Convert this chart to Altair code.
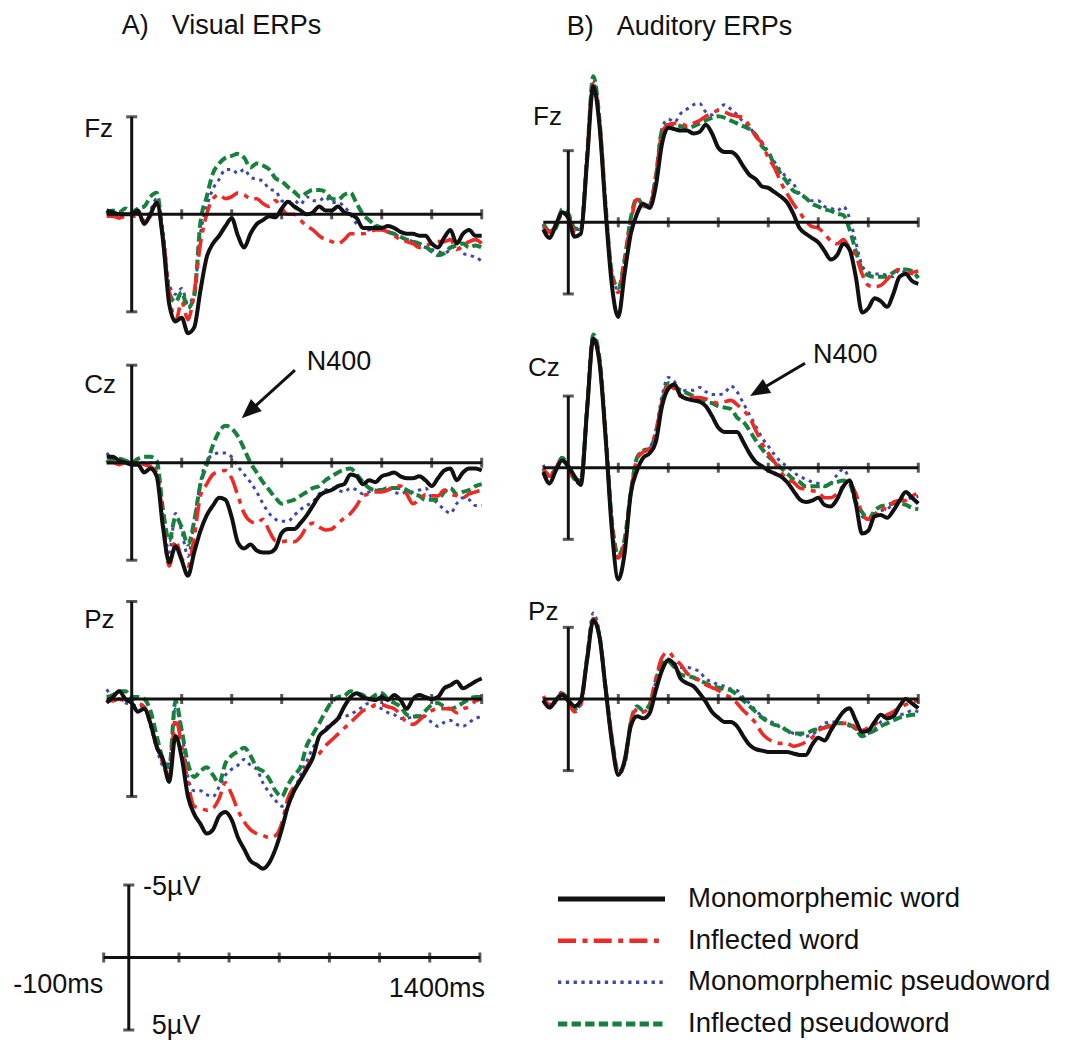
import altair as alt
import pandas as pd

FONT = "Liberation Sans"
INK = "#111111"

# ---------------------------------------------------------------- data
TIME_MS = list(range(-100, 1401, 25))          # sampling grid of every trace
CONDITIONS = ["Monomorphemic word", "Inflected word",
              "Monomorphemic pseudoword", "Inflected pseudoword"]
AXIS_TICKS_MS = [200, 400, 600, 800, 1000, 1200, 1400]
SCALEBAR_TICKS_MS = [-100, 200, 400, 600, 800, 1000, 1200, 1400]
BAR_UV = [-5, 5]

# Visual ERPs (µV, negative plotted upward)
VIS_FZ_MW = [-0.2, -0.1, 0.0, 0.0, 0.0, -0.2, 0.5, 0.0, -0.6, 1.3,
             4.6, 5.5, 5.3, 6.1, 5.8, 3.9, 2.2, 1.5, 1.1, 0.6,
             0.2, 1.1, 1.7, 1.0, 0.5, 0.3, 0.1, 0.15, -0.3, -0.65,
             -0.4, -0.2, 0.0, -0.1, -0.4, -0.2, -0.2, -0.4, -0.1, 0.0,
             0.2, 0.7, 0.7, 0.7, 0.7, 0.6, 0.7, 0.9, 1.0, 1.0,
             1.1, 1.1, 1.5, 1.7, 1.2, 0.8, 1.5, 1.0, 0.8, 1.1, 1.1]
VIS_FZ_IW = [0.1, 0.1, 0.2, 0.1, 0.1, 0.1, 0.4, 0.1, -0.5, 1.1,
             4.0, 5.5, 4.5, 5.4, 4.0, 1.5, 0.0, -0.8, -1.0, -0.8,
             -0.9, -1.1, -1.0, -0.8, -0.8, -0.55, -0.4, -0.7, -0.3, 0.0,
             0.0, 0.3, 0.6, 0.8, 1.1, 1.3, 1.4, 1.5, 1.3, 1.0,
             1.0, 1.0, 0.9, 0.8, 0.8, 0.9, 1.1, 1.3, 1.4, 1.5,
             1.7, 1.6, 1.5, 1.4, 1.4, 1.3, 1.8, 1.6, 1.4, 1.3, 1.5]
VIS_FZ_MP = [-0.2, 0.0, 0.0, 0.0, 0.0, 0.0, 0.3, -0.2, -0.8, 0.8,
             3.6, 4.1, 3.8, 4.6, 4.0, 1.0, -0.4, -1.3, -1.8, -2.3,
             -2.3, -2.1, -2.3, -1.9, -1.8, -1.7, -1.3, -1.2, -0.7, -0.6,
             -0.7, -0.5, -0.9, -0.7, -0.7, -0.9, -0.6, -0.6, -0.4, 0.0,
             0.5, 0.7, 0.8, 0.6, 0.7, 0.9, 1.0, 1.2, 1.3, 1.4,
             1.6, 1.7, 1.8, 1.9, 2.0, 1.8, 1.6, 2.0, 2.1, 2.2, 2.4]
VIS_FZ_IP = [0.0, -0.2, -0.1, -0.3, -0.1, -0.3, -0.4, -0.9, -1.1, 1.2,
             4.0, 4.5, 4.0, 4.8, 4.2, 0.4, -0.9, -2.1, -2.6, -2.9,
             -3.0, -3.1, -2.9, -2.4, -2.6, -2.5, -2.3, -1.85, -1.7, -1.4,
             -1.15, -0.9, -1.1, -1.25, -1.25, -1.15, -0.8, -0.75, -1.0, -1.1,
             -0.55, 0.0, 0.3, 0.55, 0.7, 0.9, 1.0, 1.15, 1.3, 1.4,
             1.5, 1.65, 1.9, 2.1, 2.0, 1.7, 1.6, 1.5, 1.7, 1.6, 1.7]

VIS_CZ_MW = [-0.3, -0.3, -0.1, 0.0, 0.1, 0.1, 0.5, 0.3, 0.7, 3.3,
             5.1, 4.3, 5.0, 5.8, 4.6, 3.5, 2.7, 2.2, 1.8, 1.9,
             2.8, 4.1, 4.4, 4.2, 4.5, 4.6, 4.6, 4.4, 3.6, 3.4,
             3.4, 3.1, 2.7, 2.2, 1.7, 1.5, 1.4, 1.2, 1.1, 0.6,
             0.7, 1.1, 0.9, 1.0, 0.7, 0.6, 0.5, 0.7, 0.8, 0.8,
             0.7, 0.9, 1.2, 0.8, 0.4, 0.3, 0.9, 0.5, 0.3, 0.3, 0.4]
VIS_CZ_IW = [0.0, 0.0, 0.1, 0.0, 0.0, 0.0, 0.1, 0.2, 0.5, 3.0,
             5.3, 4.0, 4.9, 5.3, 3.8, 1.7, 1.1, 0.6, 0.45, 0.4,
             0.8, 1.7, 2.6, 3.0, 3.1, 2.9, 3.5, 4.0, 4.05, 4.0,
             4.05, 3.8, 3.3, 3.1, 3.3, 3.45, 3.4, 3.1, 2.85, 2.6,
             2.2, 1.7, 1.6, 1.5, 1.5, 1.4, 1.2, 1.2, 1.6, 2.1,
             1.9, 1.65, 1.7, 1.7, 1.4, 1.6, 1.7, 1.8, 1.6, 1.5, 1.4]
VIS_CZ_MP = [-0.5, -0.2, 0.0, -0.1, 0.0, 0.0, 0.0, 0.0, 0.3, 2.8,
             4.6, 2.6, 3.5, 4.8, 3.0, 1.0, -0.1, -0.4, -0.5, -0.5,
             -0.3, 0.2, 0.6, 1.0, 1.5, 2.1, 2.6, 2.9, 3.0, 3.0,
             2.7, 2.4, 2.2, 2.0, 1.6, 1.4, 1.3, 1.4, 1.5, 1.3,
             1.4, 1.6, 1.5, 1.4, 1.5, 1.3, 1.5, 1.6, 1.5, 1.5,
             1.4, 1.3, 1.8, 2.1, 2.4, 2.6, 2.1, 1.8, 1.9, 2.2, 2.2]
VIS_CZ_IP = [0.0, -0.2, -0.2, -0.1, 0.0, -0.2, -0.3, -0.3, -0.1, 2.4,
             4.0, 2.8, 3.3, 4.2, 3.0, 1.1, 0.1, -0.9, -1.6, -1.9,
             -1.75, -1.35, -0.7, 0.0, 0.5, 1.0, 1.4, 1.8, 2.1, 2.0,
             1.9, 1.7, 1.5, 1.3, 1.2, 0.9, 0.7, 0.5, 0.35, 0.3,
             0.6, 1.0, 1.3, 1.4, 1.4, 1.3, 1.3, 1.3, 1.4, 1.6,
             1.7, 1.9, 1.9, 1.9, 1.5, 1.3, 1.6, 1.5, 1.4, 1.2, 1.1]

VIS_PZ_MW = [0.2, -0.1, -0.4, 0.0, 0.2, 0.65, 0.5, 1.25, 2.45, 3.1,
             4.25, 1.9, 3.0, 5.0, 5.9, 6.4, 6.9, 6.7, 6.0, 5.8,
             6.2, 7.1, 7.7, 8.3, 8.5, 8.7, 8.4, 7.7, 6.7, 5.5,
             4.7, 4.15, 3.6, 3.0, 1.9, 1.6, 1.3, 1.0, 0.4, -0.1,
             -0.3, -0.1, 0.0, 0.05, -0.1, 0.05, -0.2, 0.05, 0.5, 0.0,
             -0.2, -0.1, 0.0, -0.1, -0.55, -0.7, -0.9, -0.55, -0.7, -0.9, -1.05]
VIS_PZ_IW = [0.0, 0.1, 0.0, 0.1, 0.0, 0.2, 0.4, 1.2, 2.4, 3.3,
             4.0, 1.0, 2.4, 4.3, 5.5, 5.6, 5.7, 5.6, 5.1, 4.3,
             4.9, 5.7, 6.3, 6.7, 6.9, 7.0, 7.1, 7.0, 6.4, 5.1,
             4.5, 4.1, 3.5, 3.0, 2.8, 2.4, 2.1, 1.8, 1.5, 1.2,
             0.9, 0.6, 0.5, 0.3, 0.3, 0.4, 0.5, 0.8, 1.2, 1.3,
             1.1, 0.8, 0.6, 0.5, 0.5, 0.5, 0.7, 0.5, 0.4, 0.1, 0.0]
VIS_PZ_MP = [-0.5, -0.1, 0.0, 0.2, 0.3, 0.35, 0.4, 1.4, 2.5, 3.4,
             3.3, 0.5, 1.6, 4.0, 4.7, 4.7, 4.9, 5.0, 4.5, 3.9,
             3.6, 3.4, 3.1, 3.4, 3.6, 4.3, 4.8, 5.2, 5.5, 5.4,
             4.7, 3.9, 3.2, 2.5, 2.0, 1.5, 1.3, 1.0, 0.9, 0.8,
             0.6, 0.4, 0.2, 0.4, 0.5, 0.7, 0.8, 1.0, 1.0, 0.9,
             0.85, 0.9, 1.2, 1.4, 1.2, 1.1, 1.3, 1.4, 1.2, 1.0, 0.9]
VIS_PZ_IP = [-0.1, -0.2, -0.4, -0.4, -0.1, -0.1, 0.0, 0.6, 1.9, 3.1,
             3.5, 0.1, 1.6, 3.3, 4.0, 3.7, 3.5, 3.9, 4.3, 3.3,
             2.9, 2.7, 2.5, 2.9, 3.5, 3.7, 4.1, 4.7, 5.0, 4.4,
             3.9, 3.5, 2.4, 1.8, 1.25, 0.65, 0.15, -0.1, -0.15, -0.4,
             -0.3, -0.2, 0.0, -0.2, -0.3, 0.0, 0.2, 0.4, 0.8, 0.9,
             0.9, 0.6, 0.3, 0.2, 0.4, 0.5, 0.4, 0.2, 0.0, -0.1, -0.1]

# Auditory ERPs
AUD_FZ_MW = [0.5, 1.1, 0.2, -0.7, -0.3, 1.0, 0.8, -4.3, -9.5, -6.7,
             -0.6, 4.5, 6.6, 3.6, 0.8, -0.6, -1.3, -1.0, -2.5, -5.5,
             -6.6, -6.5, -6.4, -6.4, -6.2, -6.3, -6.8, -6.2, -5.2, -4.9,
             -4.9, -4.6, -3.9, -3.3, -3.0, -2.5, -2.4, -2.1, -1.8, -1.4,
             -0.6, 0.4, 0.8, 1.1, 1.4, 2.0, 2.6, 2.3, 1.5, 1.9,
             3.8, 6.3, 6.0, 5.3, 5.5, 5.9, 5.0, 3.8, 3.6, 4.1, 4.3]
AUD_FZ_IW = [0.3, 0.7, 0.2, -0.5, -0.4, 0.6, 0.6, -4.5, -9.7, -6.9,
             -0.8, 3.8, 4.9, 2.8, 0.0, -1.6, -1.1, -1.1, -3.1, -6.3,
             -6.8, -6.9, -6.9, -6.7, -6.9, -7.1, -7.4, -7.6, -7.8, -7.7,
             -7.5, -7.4, -7.3, -6.7, -6.0, -5.5, -4.5, -3.8, -2.8, -2.0,
             -1.3, -0.7, -0.1, 0.3, 0.4, 0.8, 1.3, 1.5, 1.2, 1.8,
             2.3, 3.6, 4.4, 4.5, 4.4, 4.0, 3.5, 3.3, 3.6, 3.5, 3.4]
AUD_FZ_MP = [0.2, 0.6, 0.1, -0.6, -0.5, 0.5, 0.5, -4.6, -9.8, -7.0,
             -0.9, 3.7, 4.7, 2.7, -0.2, -1.6, -1.2, -1.2, -3.3, -6.6,
             -7.2, -7.0, -7.6, -7.9, -8.2, -8.3, -7.7, -7.5, -7.9, -8.2,
             -7.9, -7.5, -7.0, -6.6, -6.1, -5.6, -4.9, -4.2, -3.6, -3.1,
             -2.7, -2.0, -1.7, -1.5, -1.5, -1.1, -1.0, -0.8, -1.1, -0.3,
             1.4, 3.0, 3.5, 3.6, 3.6, 3.7, 3.8, 3.3, 3.5, 3.6, 3.8]
AUD_FZ_IP = [0.1, 0.6, 0.4, -0.9, -0.6, 0.4, 0.5, -4.6, -10.2, -7.1,
             -1.0, 3.6, 4.6, 2.6, -0.3, -1.7, -1.2, -1.2, -3.2, -6.4,
             -6.8, -6.8, -6.7, -6.6, -6.7, -6.9, -7.1, -7.3, -7.4, -7.3,
             -7.1, -6.9, -6.7, -6.5, -6.1, -5.3, -4.9, -4.0, -3.4, -2.8,
             -2.2, -2.0, -1.7, -1.3, -1.1, -0.9, -0.8, -0.6, -0.5, 0.5,
             2.0, 3.3, 3.7, 3.8, 3.8, 3.8, 3.5, 3.3, 3.3, 3.4, 3.9]

AUD_CZ_MW = [0.3, 1.1, 0.2, -0.5, -0.1, 0.6, 1.2, -4.0, -9.0, -7.3,
             -1.9, 4.5, 7.8, 6.0, 1.8, 0.2, -0.7, -1.0, -1.8, -4.3,
             -5.5, -5.8, -5.0, -4.8, -4.7, -4.6, -4.3, -3.6, -2.8, -2.5,
             -2.5, -2.5, -1.8, -1.0, -0.4, -0.1, 0.2, 0.4, 0.6, 1.0,
             1.6, 2.2, 2.4, 2.3, 2.1, 2.6, 2.7, 2.2, 1.3, 0.9,
             2.5, 4.6, 4.4, 3.4, 3.3, 3.5, 3.0, 2.3, 1.7, 2.1, 2.5]
AUD_CZ_IW = [0.0, 0.6, 0.0, -0.6, 0.0, 0.9, 1.1, -4.0, -9.0, -7.4,
             -2.0, 4.0, 6.3, 5.3, 1.8, -0.6, -1.1, -1.3, -2.5, -4.6,
             -5.7, -5.5, -5.0, -5.0, -4.9, -4.9, -4.8, -4.6, -4.5, -4.6,
             -4.7, -4.4, -4.0, -3.5, -2.6, -1.7, -1.0, -0.4, 0.3, 0.8,
             1.0, 1.4, 1.5, 1.6, 1.7, 2.1, 2.1, 1.8, 1.3, 1.1,
             1.8, 3.2, 3.6, 3.4, 2.8, 2.9, 2.4, 2.3, 2.3, 2.0, 1.7]
AUD_CZ_MP = [-0.2, 0.5, 0.0, -0.7, -0.1, 0.7, 0.9, -4.1, -9.1, -7.5,
             -2.1, 4.1, 6.3, 5.2, 1.7, -0.7, -1.2, -1.4, -2.6, -5.0,
             -6.3, -6.0, -5.3, -5.4, -5.4, -5.6, -5.3, -5.1, -5.1, -5.2,
             -5.7, -5.3, -4.5, -3.7, -2.9, -2.1, -1.5, -0.9, -0.4, -0.1,
             0.3, 0.6, 0.8, 1.0, 1.1, 1.3, 1.1, 0.5, 0.1, 0.9,
             2.4, 3.4, 3.6, 3.2, 3.0, 2.9, 2.5, 2.3, 2.2, 2.1, 2.0]
AUD_CZ_IP = [0.1, 0.6, 0.1, -0.7, -0.1, 0.8, 0.9, -4.2, -9.3, -7.6,
             -2.2, 3.8, 6.1, 5.0, 1.7, -0.7, -1.2, -1.3, -2.4, -4.6,
             -5.9, -5.6, -5.4, -5.2, -5.0, -4.8, -4.6, -4.5, -4.3, -4.2,
             -4.1, -3.5, -3.2, -2.6, -1.9, -1.3, -0.8, -0.4, 0.0, 0.4,
             0.8, 1.0, 1.3, 1.3, 1.3, 1.3, 1.1, 1.0, 0.9, 1.1,
             2.4, 3.1, 3.6, 3.0, 2.7, 2.6, 2.5, 2.5, 2.6, 2.8, 2.9]

AUD_PZ_MW = [0.1, 0.6, 0.1, -0.3, 0.1, 0.5, 0.1, -2.7, -5.5, -4.3,
             -0.6, 3.1, 5.3, 4.3, 1.9, 1.2, 1.35, 1.0, -0.6, -2.0,
             -2.7, -2.4, -1.4, -1.1, -0.9, -0.4, 0.2, 0.9, 1.3, 1.6,
             1.6, 1.9, 2.6, 3.2, 3.5, 3.6, 3.7, 3.7, 3.7, 3.7,
             3.8, 3.9, 3.9, 3.2, 2.7, 2.9, 2.2, 1.5, 0.9, 0.65,
             1.5, 2.3, 2.2, 1.6, 1.1, 1.35, 1.2, 0.5, 0.0, 0.3, 0.65]
AUD_PZ_IW = [-0.2, 0.4, 0.2, -0.4, 0.2, 0.9, 0.4, -2.8, -5.6, -4.4,
             -0.7, 2.9, 5.2, 4.5, 1.6, 0.7, 0.9, 0.5, -1.4, -2.9,
             -3.3, -2.8, -2.4, -1.8, -1.5, -1.3, -1.0, -0.8, -0.6, -0.3,
             -0.1, 0.3, 0.8, 1.2, 1.7, 2.4, 2.8, 3.0, 3.1, 3.1,
             3.3, 3.2, 3.0, 2.7, 2.2, 2.0, 1.9, 1.7, 1.7, 1.7,
             2.0, 2.2, 2.0, 1.8, 1.4, 1.1, 0.9, 0.6, 0.4, 0.2, 0.1]
AUD_PZ_MP = [0.0, 0.4, 0.0, -0.5, 0.1, 0.8, 0.3, -3.0, -6.0, -4.5,
             -0.7, 2.8, 5.3, 4.6, 1.6, 0.8, 0.9, 0.6, -1.2, -2.5,
             -2.8, -2.5, -2.2, -2.2, -2.1, -1.9, -1.4, -1.2, -1.0, -0.9,
             -0.7, -0.6, -0.1, 0.3, 0.8, 1.2, 1.5, 1.7, 2.0, 2.2,
             2.4, 2.5, 2.6, 2.5, 2.1, 1.7, 1.6, 1.6, 1.7, 1.9,
             2.1, 2.5, 2.4, 2.1, 1.6, 1.4, 1.2, 1.1, 1.0, 0.8, 0.9]
AUD_PZ_IP = [0.1, 0.5, 0.1, -0.4, 0.1, 0.7, 0.3, -2.9, -5.6, -4.4,
             -0.6, 2.8, 5.1, 4.5, 1.6, 0.5, 0.8, 0.4, -1.3, -2.5,
             -2.6, -2.2, -1.7, -1.6, -1.5, -1.3, -1.1, -0.9, -0.8, -0.7,
             -0.6, -0.3, 0.1, 0.5, 0.9, 1.3, 1.6, 1.8, 1.9, 2.2,
             2.4, 2.4, 2.4, 2.2, 2.1, 2.0, 1.8, 1.7, 1.7, 1.8,
             2.1, 2.6, 2.4, 2.2, 1.9, 1.7, 1.5, 1.3, 1.2, 1.1, 1.1]

# ---------------------------------------------------------------- styles / layout
LINE_STYLE = {
    "Monomorphemic word": dict(color="#111111", strokeWidth=4.0),
    "Inflected word": dict(color="#ec2a26", strokeWidth=3.6, strokeDash=[18, 6.5, 5, 6.2]),
    "Monomorphemic pseudoword": dict(color="#3e48a8", strokeWidth=3.0, strokeDash=[3.3, 4.5]),
    "Inflected pseudoword": dict(color="#17803c", strokeWidth=4.0, strokeDash=[9.3, 4.3]),
}
LEGEND_WIDTH = {"Monomorphemic word": 5.0, "Inflected word": 4.5,
                "Monomorphemic pseudoword": 3.5, "Inflected pseudoword": 5.0}
DRAW_ORDER = ["Monomorphemic pseudoword", "Inflected pseudoword",
              "Inflected word", "Monomorphemic word"]

VIS_X = (106.7, 481.7)
AUD_X = (543.3, 918.3)
PANELS = [
    # label, series, x pixel range, zero-line pixel y, px per µV, label position (ms, µV)
    ("Fz", [VIS_FZ_MW, VIS_FZ_IW, VIS_FZ_MP, VIS_FZ_IP], VIS_X, 214.3, 19.5, (-190, -4.37)),
    ("Cz", [VIS_CZ_MW, VIS_CZ_IW, VIS_CZ_MP, VIS_CZ_IP], VIS_X, 462.7, 19.5, (-190, -3.98)),
    ("Pz", [VIS_PZ_MW, VIS_PZ_IW, VIS_PZ_MP, VIS_PZ_IP], VIS_X, 699.0, 19.5, (-190, -4.05)),
    ("Fz", [AUD_FZ_MW, AUD_FZ_IW, AUD_FZ_MP, AUD_FZ_IP], AUD_X, 222.3, 14.33, (-141, -7.37)),
    ("Cz", [AUD_CZ_MW, AUD_CZ_IW, AUD_CZ_MP, AUD_CZ_IP], AUD_X, 467.7, 14.33, (-161, -6.99)),
    ("Pz", [AUD_PZ_MW, AUD_PZ_IW, AUD_PZ_MP, AUD_PZ_IP], AUD_X, 699.0, 14.33, (-161, -6.04)),
]
ARROW_HEAD = "M0,0L-0.45,1.1L0.45,1.1Z"


def make_scales(x_range, y_zero, ppu):
    xs = alt.Scale(domain=[-100, 1400], range=list(x_range), nice=False, zero=False)
    ys = alt.Scale(domain=[-5, 5], range=[y_zero - 5 * ppu, y_zero + 5 * ppu],
                   nice=False, zero=False)
    return xs, ys


def enc(xs, ys, xf="t", yf="v"):
    return dict(x=alt.X(f"{xf}:Q", scale=xs, axis=None),
                y=alt.Y(f"{yf}:Q", scale=ys, axis=None))


def axis_layers(xs, ys, ticks, start=-100):
    out = []
    out.append(alt.Chart(pd.DataFrame({"t": [start], "t2": [1400], "v": [0]}))
               .mark_rule(color=INK, strokeWidth=3)
               .encode(x2="t2:Q", **enc(xs, ys)))
    out.append(alt.Chart(pd.DataFrame({"t": ticks, "v": [0] * len(ticks)}))
               .mark_tick(orient="vertical", size=10, thickness=3, color=INK)
               .encode(**enc(xs, ys)))
    out.append(alt.Chart(pd.DataFrame({"t": [0], "v": [BAR_UV[0]], "v2": [BAR_UV[1]]}))
               .mark_rule(color=INK, strokeWidth=3)
               .encode(y2="v2:Q", **enc(xs, ys)))
    out.append(alt.Chart(pd.DataFrame({"t": [0, 0], "v": BAR_UV}))
               .mark_tick(orient="horizontal", size=11, thickness=3, color=INK)
               .encode(**enc(xs, ys)))
    return out


def text_layer(xs, ys, rows, size=27, align="left"):
    df = pd.DataFrame(rows, columns=["t", "v", "label"])
    return (alt.Chart(df)
            .mark_text(align=align, baseline="middle", font=FONT, fontSize=size, color=INK)
            .encode(text="label:N", **enc(xs, ys)))


layers = []
panel_scales = []
for label, series, xr, yz, ppu, lpos in PANELS:
    xs, ys = make_scales(xr, yz, ppu)
    panel_scales.append((xs, ys))
    for cond in DRAW_ORDER:
        vals = series[CONDITIONS.index(cond)]
        df = pd.DataFrame({"t": TIME_MS, "v": vals})
        layers.append(alt.Chart(df)
                      .mark_line(interpolate="monotone", strokeCap="butt", **LINE_STYLE[cond])
                      .encode(**enc(xs, ys)))
    layers += axis_layers(xs, ys, AXIS_TICKS_MS)
    layers.append(text_layer(xs, ys, [(lpos[0], lpos[1], label)], size=26))

# titles (in the coordinates of the two Fz panels)
vxs, vys = panel_scales[0]
axs, ays = panel_scales[3]
layers.append(text_layer(vxs, vys, [(-40, -9.66, "A)"), (160, -9.66, "Visual ERPs")]))
layers.append(text_layer(axs, ays, [(-6, -13.66, "B)"), (194, -13.66, "Auditory ERPs")]))

# N400 annotations on the Cz panels: (text pos, arrow tail, arrow end, tip, angle)
N400 = [
    (panel_scales[1], (700, -5.14), (653, -4.75), (470, -2.62), (440, -2.28), 227.8),
    (panel_scales[4], (979, -7.86), (947, -7.29), (761, -5.36), (727, -5.0), 239.3),
]
for (xs, ys), tpos, tail, end, tip, ang in N400:
    layers.append(text_layer(xs, ys, [(tpos[0], tpos[1], "N400")]))
    layers.append(alt.Chart(pd.DataFrame({"t": [tail[0]], "v": [tail[1]],
                                          "t2": [end[0]], "v2": [end[1]]}))
                  .mark_rule(color=INK, strokeWidth=3)
                  .encode(x2="t2:Q", y2="v2:Q", **enc(xs, ys)))
    layers.append(alt.Chart(pd.DataFrame({"t": [tip[0]], "v": [tip[1]]}))
                  .mark_point(shape=ARROW_HEAD, size=1300, filled=True, opacity=1,
                              color=INK, angle=ang, strokeWidth=0)
                  .encode(**enc(xs, ys)))

# scale bar
sxs = alt.Scale(domain=[-100, 1400], range=[103.7, 479.9], nice=False, zero=False)
sys_ = alt.Scale(domain=[-5, 5], range=[885, 1030], nice=False, zero=False)
layers += axis_layers(sxs, sys_, SCALEBAR_TICKS_MS)
layers.append(text_layer(sxs, sys_, [(57, -4.86, "-5µV"), (92, 4.72, "5µV")]))
layers.append(text_layer(sxs, sys_, [(-102, 1.9, "-100ms"), (1420, 2.17, "1400ms")], align="right"))

# legend
lxs = alt.Scale(domain=[0, 1], range=[558, 665], nice=False, zero=False)
lys = alt.Scale(domain=[0, 3], range=[899, 1024], nice=False, zero=False)
for i, cond in enumerate(CONDITIONS):
    st = dict(LINE_STYLE[cond])
    st["strokeWidth"] = LEGEND_WIDTH[cond]
    layers.append(alt.Chart(pd.DataFrame({"t": [0], "t2": [1], "v": [i]}))
                  .mark_rule(strokeCap="butt", **st)
                  .encode(x2="t2:Q", **enc(lxs, lys)))
layers.append(alt.Chart(pd.DataFrame({"t": [1.215] * 4, "v": [0, 1, 2, 3], "label": CONDITIONS}))
              .mark_text(align="left", baseline="middle", font=FONT, fontSize=27.5, color=INK)
              .encode(text="label:N", **enc(lxs, lys)))

chart = (alt.layer(*layers)
         .resolve_scale(x="independent", y="independent")
         .properties(width=1065, height=1044, padding=0,
                     autosize=alt.AutoSizeParams(type="none"),
                     background="white")
         .configure_view(stroke=None))

chart.save("out.html", embed_options={"renderer": "svg", "actions": False})
